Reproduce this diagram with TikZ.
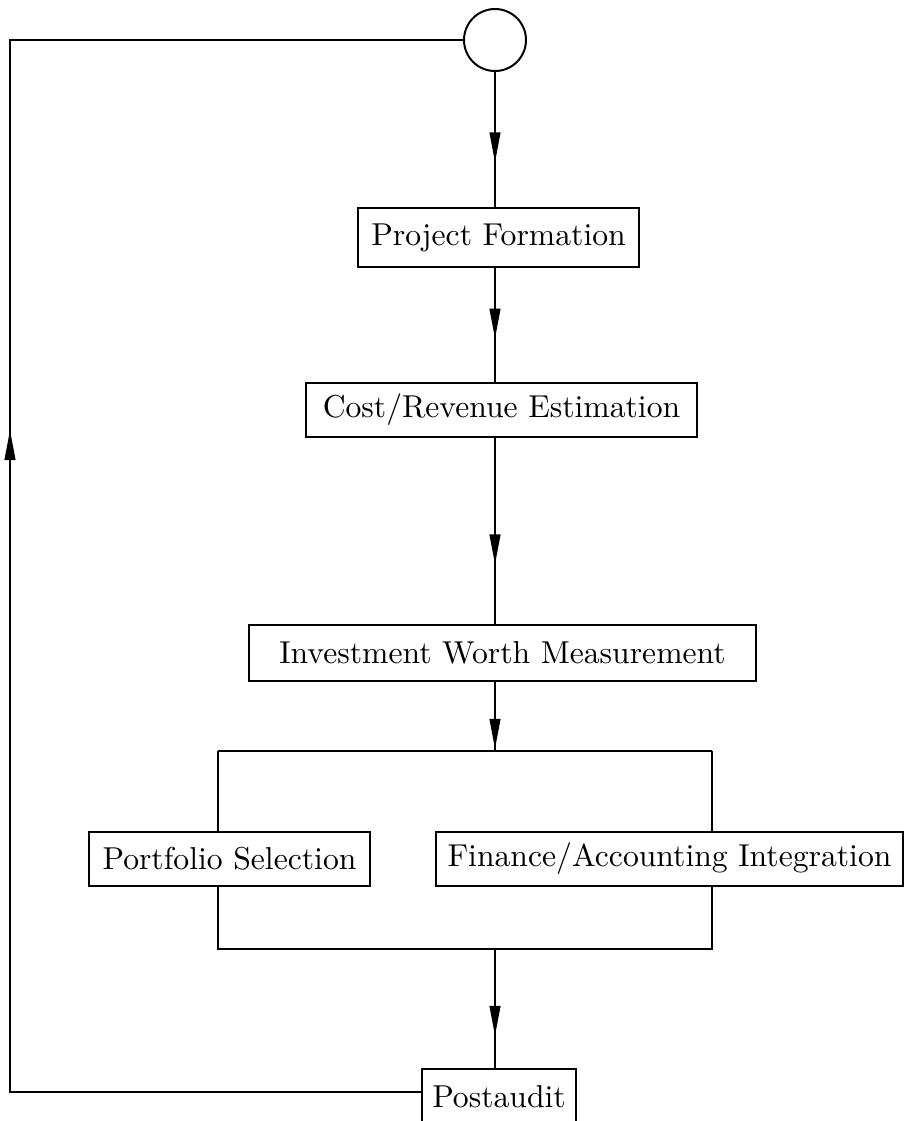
\documentclass[tikz,border=0pt]{standalone}
\usepackage{tikz}
\usetikzlibrary{arrows.meta,decorations.markings}

\begin{document}
\begin{tikzpicture}[x=0.3pt, y=-0.3pt,
	arrowat/.style={postaction={decorate}, decoration={markings, mark=at position #1 with {\arrow{Triangle[length=9pt,width=3.2pt]}}}}]
	\tikzstyle{bx} = [draw = black, line width = 0.6pt, inner sep = 0pt, font = \fontsize{9.5}{11}\selectfont]
	\tikzstyle{line} = [line width = 0.6pt]
	\useasboundingbox (0,0) rectangle (905,1121);
	\node(circ)[circle, draw = black, line width = 0.6pt, minimum size = 18.6pt, inner sep = 0pt] at (495,40) {};
	\node(pf)[bx, minimum width = 84.3pt, minimum height = 17.7pt] at (498.5,237.5) {Project Formation};
	\node(cre)[bx, minimum width = 117.3pt, minimum height = 16.2pt] at (501.5,410) {Cost/Revenue Estimation};
	\node(iwm)[bx, minimum width = 152.1pt, minimum height = 16.8pt] at (502.5,653) {Investment Worth Measurement};
	\node(ps)[bx, minimum width = 84.3pt, minimum height = 16.2pt] at (229.5,859) {Portfolio Selection};
	\node(fai)[bx, minimum width = 140.1pt, minimum height = 16.2pt] at (669.5,859) {Finance/Accounting Integration};
	\node(pa)[bx, minimum width = 46.2pt, minimum height = 16.8pt] at (499,1097) {Postaudit};
	% corners of the split
	\coordinate (tl) at (218,751);
	\coordinate (tr) at (712,751);
	\coordinate (bl) at (218,949);
	\coordinate (br) at (712,949);
	\coordinate (st) at (495,751);
	\coordinate (sb) at (495,949);
	% feedback loop
	\coordinate (rb) at (10,1092);
	\coordinate (rt) at (10,40);
	\draw[line, arrowat = 0.67](circ.south) -- (circ |- pf.north);
	\draw[line, arrowat = 0.62](pf.south -| circ) -- (circ |- cre.north);
	\draw[line, arrowat = 0.68](cre.south -| circ) -- (circ |- iwm.north);
	\draw[line, arrowat = 0.97](iwm.south -| circ) -- (st);
	\draw[line](tl) -- (tr);
	\draw[line](tl) -- (tl |- ps.north);
	\draw[line](tr) -- (tr |- fai.north);
	\draw[line](bl |- ps.south) -- (bl) -- (br) -- (br |- fai.south);
	\draw[line, arrowat = 0.73](sb) -- (sb |- pa.north);
	\draw[line, arrowat = 0.56](rb -| pa.west) -- (rb) -- (rt) -- (circ.west);
\end{tikzpicture}
\end{document}
